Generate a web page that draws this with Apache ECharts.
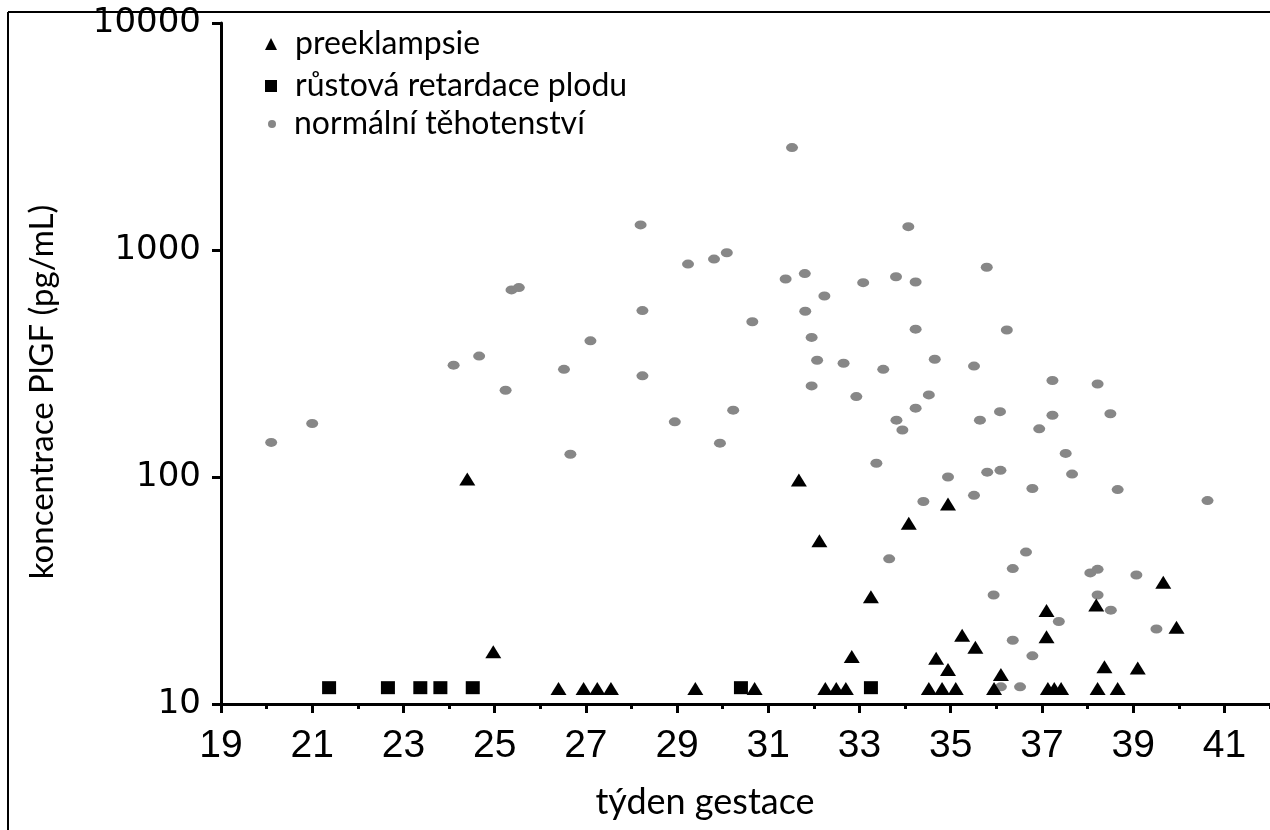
<!DOCTYPE html>
<html>
<head>
<meta charset="utf-8">
<title>koncentrace PlGF</title>
<script src="https://cdn.jsdelivr.net/npm/echarts@6/dist/echarts.min.js"></script>
<style>
html, body { margin: 0; padding: 0; background: #fff; }
#chart-panel { width: 1270px; height: 830px; }
</style>
</head>
<body>
<div id="chart-panel"></div>
<script>
(function () {
    var myChart = echarts.init(document.querySelector('#chart-panel'));

    // [týden gestace, PlGF pg/mL]
    var preeklampsie = [
        [24.4, 98], [24.97, 17], [26.4, 11.7], [26.95, 11.7], [27.25, 11.7], [27.55, 11.7],
        [29.4, 11.7], [30.7, 11.7], [31.67, 97], [32.12, 52.4], [34.08, 62.5], [33.25, 29.7],
        [32.83, 16.2], [32.25, 11.7], [32.49, 11.7], [32.7, 11.7],
        [34.94, 76], [39.66, 34.4], [38.19, 27.3], [37.1, 25.8], [39.95, 21.8], [37.1, 19.8],
        [35.25, 20.1], [35.54, 17.8], [34.68, 15.9], [34.94, 14.2], [38.37, 14.6], [39.1, 14.4],
        [36.1, 13.5], [34.52, 11.7], [34.81, 11.7], [35.11, 11.7], [35.95, 11.7],
        [37.13, 11.7], [37.27, 11.7], [37.42, 11.7], [38.22, 11.7], [38.66, 11.7]
    ];

    var retardace = [
        [21.37, 11.8], [22.66, 11.8], [23.37, 11.8], [23.81, 11.8], [24.52, 11.8],
        [30.4, 11.8], [33.25, 11.8]
    ];

    var normalni = [
        [20.1, 142], [21.0, 172], [24.1, 311], [24.66, 341], [25.24, 241], [25.37, 667],
        [25.53, 683], [26.52, 298], [26.66, 126], [27.1, 398], [28.24, 541], [28.24, 279],
        [28.2, 1290], [31.52, 2826], [34.07, 1267], [29.24, 867], [29.81, 912], [30.09, 973],
        [31.38, 745], [31.8, 787], [33.08, 718], [33.8, 762], [34.23, 723], [32.23, 627],
        [31.81, 537], [30.65, 483], [34.23, 448], [31.95, 412], [32.07, 327], [32.65, 317],
        [33.52, 298], [34.65, 330], [31.95, 252], [32.93, 226], [34.52, 230], [34.23, 201],
        [33.81, 178], [33.94, 161], [30.23, 197], [28.95, 175], [29.94, 141], [33.37, 115],
        [34.94, 100], [34.4, 78], [33.65, 43.6], [35.79, 839], [36.23, 444], [35.51, 308],
        [37.23, 266], [38.22, 257], [35.64, 178], [36.08, 194], [37.23, 187], [38.5, 190],
        [36.94, 163], [37.52, 127], [37.66, 103], [35.8, 105], [36.09, 107], [35.51, 83],
        [36.79, 89], [38.66, 88], [40.63, 78.7], [36.65, 46.7], [36.36, 39.5], [38.06, 37.8],
        [38.22, 39.2], [39.07, 37], [35.94, 30.2], [38.22, 30.2], [38.51, 25.9], [37.37, 23.1],
        [39.51, 21.4], [36.36, 19.1], [36.79, 16.3], [36.1, 11.9], [36.52, 11.9]
    ];

    var xMin = 19, xMax = 42;
    var yMin = 10, yMax = 10000;

    var legendText = { color: '#000', fontSize: 32, fontFamily: 'Lato', lineHeight: 30, padding: [0, 0, 0, 13] };

    var option = {
        backgroundColor: '#fff',
        animation: false,
        grid: { left: 221, right: 0, top: 23, bottom: 126, containLabel: false },
        legend: [{
            data: ['preeklampsie', 'růstová retardace plodu'],
            orient: 'vertical',
            left: 260, top: 23,
            itemWidth: 12, itemHeight: 12, itemGap: 10,
            textStyle: legendText
        }, {
            data: ['normální těhotenství'],
            orient: 'vertical',
            left: 263, top: 103,
            itemWidth: 8, itemHeight: 8,
            textStyle: echarts.util.extend({}, legendText, { padding: [0, 0, 0, 16] })
        }],
        xAxis: [{
            type: 'value',
            min: xMin, max: xMax, interval: 2,
            position: 'bottom',
            axisLine: { show: true, lineStyle: { color: '#000', width: 3 } },
            axisTick: { show: true, length: 9, lineStyle: { color: '#000', width: 3 } },
            axisLabel: { color: '#000', fontSize: 39, fontFamily: 'Liberation Sans', margin: 23, showMaxLabel: false },
            splitLine: { show: false }
        }, {
            type: 'value',
            min: xMin, max: xMax, interval: 1,
            position: 'bottom', offset: 0,
            axisLine: { show: false },
            axisTick: { show: true, length: 5, lineStyle: { color: '#000', width: 3 } },
            axisLabel: { show: false },
            splitLine: { show: false }
        }],
        yAxis: {
            type: 'log', logBase: 10,
            min: yMin, max: yMax,
            axisLine: { show: true, lineStyle: { color: '#000', width: 3 } },
            axisTick: { show: true, length: 9, lineStyle: { color: '#000', width: 3 } },
            axisLabel: {
                color: '#000', fontSize: 34, fontFamily: 'DejaVu Sans', margin: 20,
                formatter: function (v) { return String(Math.round(v)); }
            },
            splitLine: { show: false }
        },
        series: [{
            name: 'normální těhotenství',
            type: 'scatter',
            data: normalni,
            symbol: 'circle',
            symbolSize: [12, 9],
            itemStyle: { color: '#878787', opacity: 1 }
        }, {
            name: 'preeklampsie',
            type: 'scatter',
            data: preeklampsie,
            symbol: 'triangle',
            symbolSize: [16, 13],
            itemStyle: { color: '#000', opacity: 1 }
        }, {
            name: 'růstová retardace plodu',
            type: 'scatter',
            data: retardace,
            symbol: 'rect',
            symbolSize: [14, 13],
            itemStyle: { color: '#000', opacity: 1 }
        }],
        graphic: [{
            type: 'line',
            shape: { x1: 8, y1: 12, x2: 1270, y2: 12 },
            style: { stroke: '#000', lineWidth: 2 }
        }, {
            type: 'line',
            shape: { x1: 8, y1: 12, x2: 8, y2: 830 },
            style: { stroke: '#000', lineWidth: 2 }
        }, {
            type: 'text',
            x: 42, y: 392,
            rotation: Math.PI / 2,
            style: {
                text: 'koncentrace PlGF (pg/mL)',
                fill: '#000', fontSize: 33, fontFamily: 'Lato',
                textAlign: 'center', textVerticalAlign: 'middle'
            }
        }, {
            type: 'text',
            x: 705, y: 802,
            style: {
                text: 'týden gestace',
                fill: '#000', fontSize: 36, fontFamily: 'Lato',
                textAlign: 'center', textVerticalAlign: 'middle'
            }
        }]
    };

    myChart.setOption(option);
})();
</script>
</body>
</html>
